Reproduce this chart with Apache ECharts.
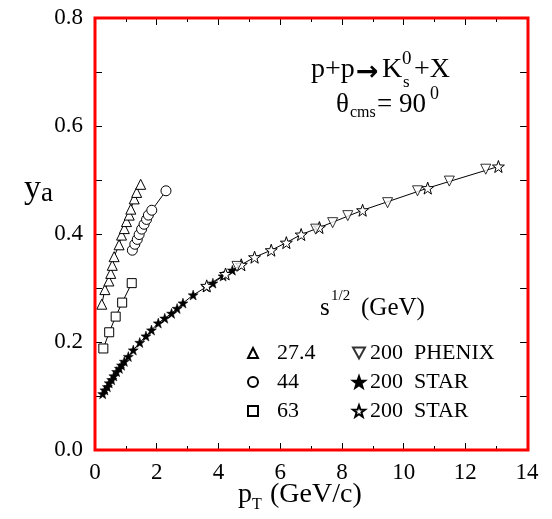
<!DOCTYPE html>
<html>
<head>
<meta charset="utf-8">
<script src="https://cdn.jsdelivr.net/npm/echarts@6/dist/echarts.min.js"></script>
<style>
  html, body { margin: 0; padding: 0; background: #fff; }
  #chart { width: 552px; height: 519px; }
</style>
</head>
<body>
<div id="chart"></div>
<script>
// y_a versus transverse momentum for p+p -> K0s + X at theta_cms = 90 deg

// sqrt(s) = 27.4 GeV
const pt274 = [0.22, 0.32, 0.45, 0.51, 0.56, 0.62, 0.78, 0.86, 0.95, 1.02, 1.11, 1.16, 1.27, 1.35, 1.48];
const ya274 = [0.270, 0.297, 0.313, 0.327, 0.342, 0.358, 0.380, 0.398, 0.410, 0.423, 0.435, 0.446, 0.465, 0.477, 0.492];

// sqrt(s) = 44 GeV
const pt44 = [1.21, 1.29, 1.37, 1.43, 1.51, 1.59, 1.67, 1.73, 1.84, 2.30];
const ya44 = [0.370, 0.381, 0.390, 0.399, 0.409, 0.418, 0.427, 0.435, 0.444, 0.480];

// sqrt(s) = 63 GeV
const pt63 = [0.27, 0.46, 0.67, 0.88, 1.19];
const ya63 = [0.188, 0.218, 0.247, 0.273, 0.309];

// sqrt(s) = 200 GeV, STAR (filled stars)
const ptStarA = [0.25, 0.32, 0.40, 0.46, 0.54, 0.61, 0.70, 0.79, 0.86, 0.95, 1.08, 1.24, 1.45, 1.65,
                 1.83, 2.05, 2.26, 2.48, 2.66, 2.85, 3.18, 3.61, 3.82, 4.15, 4.45, 4.74];
const yaStarA = [0.104, 0.111, 0.117, 0.124, 0.130, 0.137, 0.145, 0.151, 0.157, 0.164, 0.173, 0.185, 0.199, 0.211,
                 0.222, 0.235, 0.244, 0.253, 0.262, 0.272, 0.287, 0.302, 0.309, 0.322, 0.333, 0.343];

// sqrt(s) = 200 GeV, STAR (open stars)
const ptStarB = [3.62, 4.23, 4.74, 5.17, 5.71, 6.20, 6.68, 7.27, 8.67, 10.78, 13.07];
const yaStarB = [0.304, 0.326, 0.343, 0.357, 0.370, 0.384, 0.399, 0.412, 0.444, 0.485, 0.525];

// sqrt(s) = 200 GeV, PHENIX
const ptPhenix = [4.60, 7.15, 7.70, 8.19, 9.48, 10.45, 11.48, 12.66];
const yaPhenix = [0.340, 0.409, 0.421, 0.434, 0.458, 0.480, 0.498, 0.520];

// axis tick labels
const xTickLabels = ['0', '2', '4', '6', '8', '10', '12', '14'];
const yTickLabels = ['0.0', '0.2', '0.4', '0.6', '0.8'];

// legend entries
const legendLeft = ['27.4', '44', '63'];
const legendRight = ['200  PHENIX', '200  STAR', '200  STAR '];

const zip = (xs, ys) => xs.map((x, i) => [x, ys[i]]);

const FONT = "'Liberation Serif', 'DejaVu Serif', serif";
const STAR = 'path://M0,-10 L2.35,-3.24 L9.51,-3.09 L3.80,1.24 L5.88,8.09 L0,4 L-5.88,8.09 L-3.80,1.24 L-9.51,-3.09 L-2.35,-3.24 Z';
const DOWN_TRI = 'path://M-5,-4 L5,-4 L0,5 Z';

const openStyle = { color: '#fff', borderColor: '#000', borderWidth: 1 };
const lineStyle = { color: '#000', width: 1 };

// plot area in pixels
const GRID = { left: 95, right: 24, top: 18, bottom: 69 };
const W = 552, H = 519;

const chart = echarts.init(document.getElementById('chart'));

const axisLine = () => ({ show: true, onZero: false, lineStyle: { color: '#000', width: 1 } });
const axisTick = () => ({ show: true, inside: true, length: 7, lineStyle: { color: '#000', width: 1 } });
const minorX = () => ({ show: true, splitNumber: 2, length: 4, lineStyle: { color: '#000', width: 1 } });
const hiddenLabel = () => ({ show: true, color: 'rgba(0,0,0,0)', fontSize: 10 });

const option = {
  animation: false,
  grid: { left: GRID.left, right: GRID.right, top: GRID.top, bottom: GRID.bottom },
  xAxis: [
    {
      type: 'value', min: 0, max: 14, interval: 2, position: 'bottom',
      axisLine: axisLine(), axisTick: axisTick(), minorTick: minorX(), splitLine: { show: false },
      axisLabel: {
        color: '#000', fontFamily: FONT, fontSize: 23, margin: 11,
        formatter: v => xTickLabels[Math.round(v / 2)] ?? ''
      }
    },
    {
      type: 'value', min: 0, max: 14, interval: 2, position: 'top',
      axisLine: axisLine(), axisTick: axisTick(), minorTick: minorX(), splitLine: { show: false },
      axisLabel: hiddenLabel()
    }
  ],
  yAxis: [
    {
      type: 'value', min: 0, max: 0.8, interval: 0.1, position: 'left',
      axisLine: axisLine(), axisTick: axisTick(), splitLine: { show: false },
      axisLabel: {
        color: '#000', fontFamily: FONT, fontSize: 23, margin: 12,
        formatter: v => {
          const s = v.toFixed(1);
          return yTickLabels.includes(s) ? s : '';
        }
      }
    },
    {
      type: 'value', min: 0, max: 0.8, interval: 0.1, position: 'right',
      axisLine: axisLine(), axisTick: axisTick(), splitLine: { show: false },
      axisLabel: hiddenLabel()
    }
  ],
  legend: [
    {
      orient: 'vertical', left: 242, top: 337, itemWidth: 10, itemHeight: 10, itemGap: 7,
      selectedMode: false,
      textStyle: { color: '#000', fontFamily: FONT, fontSize: 22, lineHeight: 21, padding: [0, 0, 0, 14] },
      data: [
        { name: legendLeft[0], icon: 'triangle' },
        { name: legendLeft[1], icon: 'circle' },
        { name: legendLeft[2], icon: 'rect' }
      ]
    },
    {
      orient: 'vertical', left: 347, top: 337, itemWidth: 12, itemHeight: 12, itemGap: 7,
      selectedMode: false,
      textStyle: { color: '#000', fontFamily: FONT, fontSize: 22, lineHeight: 21 },
      data: [
        { name: legendRight[0], icon: DOWN_TRI },
        { name: legendRight[1], icon: STAR },
        { name: legendRight[2], icon: STAR }
      ]
    }
  ],
  series: [
    {
      name: legendLeft[0], type: 'line', data: zip(pt274, ya274),
      symbol: 'triangle', symbolSize: 10, itemStyle: openStyle, lineStyle, z: 3
    },
    {
      name: legendLeft[1], type: 'line', data: zip(pt44, ya44),
      symbol: 'circle', symbolSize: 10, itemStyle: openStyle, lineStyle, z: 3
    },
    {
      name: legendLeft[2], type: 'line', data: zip(pt63, ya63),
      symbol: 'rect', symbolSize: 9, itemStyle: openStyle, lineStyle, z: 3
    },
    {
      name: legendRight[1], type: 'line', data: zip(ptStarA, yaStarA),
      symbol: STAR, symbolSize: 10, itemStyle: { color: '#000', borderColor: '#000', borderWidth: 0.5 }, lineStyle, z: 3
    },
    {
      name: legendRight[2], type: 'line', data: zip(ptStarB, yaStarB),
      symbol: STAR, symbolSize: 12, itemStyle: openStyle, lineStyle, z: 4
    },
    {
      name: legendRight[0], type: 'scatter', data: zip(ptPhenix, yaPhenix),
      symbol: DOWN_TRI, symbolSize: 10, itemStyle: openStyle, z: 5
    }
  ],
  graphic: [
    // frame around the plot area
    {
      type: 'rect', silent: true, z: 100,
      shape: { x: GRID.left, y: GRID.top, width: W - GRID.left - GRID.right, height: H - GRID.top - GRID.bottom },
      style: { fill: 'none', stroke: '#f00', lineWidth: 3 }
    },
    // reaction
    { type: 'text', left: 311, top: 56, style: { text: 'p+p', font: `28px ${FONT}`, fill: '#000' } },
    { type: 'text', left: 356, top: 59, style: { text: '→', font: `bold 27px 'DejaVu Sans'`, fill: '#000' } },
    { type: 'text', left: 382, top: 56, style: { text: 'K', font: `28px ${FONT}`, fill: '#000' } },
    { type: 'text', left: 402, top: 50, style: { text: '0', font: `19px ${FONT}`, fill: '#000' } },
    { type: 'text', left: 403, top: 74, style: { text: 's', font: `17px ${FONT}`, fill: '#000' } },
    { type: 'text', left: 414, top: 56, style: { text: '+X', font: `28px ${FONT}`, fill: '#000' } },
    // angle
    { type: 'text', left: 336, top: 91, style: { text: 'θ', font: `27px ${FONT}`, fill: '#000' } },
    { type: 'text', left: 350, top: 105, style: { text: 'cms', font: `16px ${FONT}`, fill: '#000' } },
    { type: 'text', left: 377, top: 91, style: { text: '= 90', font: `27px ${FONT}`, fill: '#000' } },
    { type: 'text', left: 430, top: 85, style: { text: '0', font: `18px ${FONT}`, fill: '#000' } },
    // legend heading
    { type: 'text', left: 320, top: 296, style: { text: 's', font: `25px ${FONT}`, fill: '#000' } },
    { type: 'text', left: 331, top: 289, style: { text: '1/2', font: `15px ${FONT}`, fill: '#000' } },
    { type: 'text', left: 361, top: 296, style: { text: '(GeV)', font: `25px ${FONT}`, fill: '#000' } },
    // y axis title
    { type: 'text', left: 24, top: 172, style: { text: 'y', font: `34px ${FONT}`, fill: '#000' } },
    { type: 'text', left: 41, top: 180, style: { text: 'a', font: `27px ${FONT}`, fill: '#000' } },
    // x axis title
    { type: 'text', left: 238, top: 481, style: { text: 'p', font: `28px ${FONT}`, fill: '#000' } },
    { type: 'text', left: 252, top: 497, style: { text: 'T', font: `16px ${FONT}`, fill: '#000' } },
    { type: 'text', left: 270, top: 481, style: { text: '(GeV/c)', font: `28px ${FONT}`, fill: '#000' } }
  ]
};

chart.setOption(option);
</script>
</body>
</html>
